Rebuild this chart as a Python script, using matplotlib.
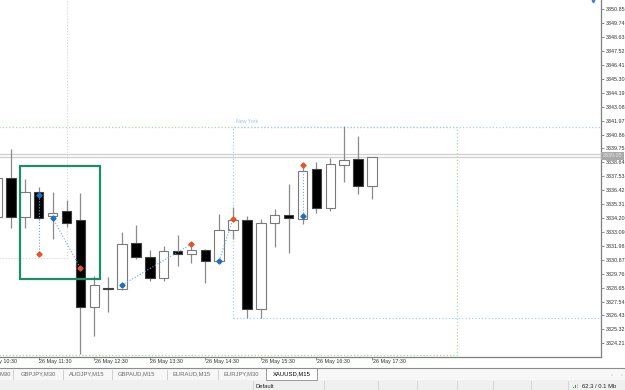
import numpy as np
import matplotlib
matplotlib.use('Agg')
from matplotlib import pyplot as plt
from matplotlib.patches import Rectangle

plt.rcParams['font.family'] = ['Liberation Sans', 'DejaVu Sans']

# XAUUSD M15 candles, 26 May
times = ['10:45', '11:00', '11:15', '11:30', '11:45', '12:00', '12:15', '12:30', '12:45',
         '13:00', '13:15', '13:30', '13:45', '14:00', '14:15', '14:30', '14:45', '15:00',
         '15:15', '15:30', '15:45', '16:00', '16:15', '16:30', '16:45', '17:00', '17:15', '17:30']
opens = [3334.31, 3337.42, 3334.31, 3336.28, 3334.34, 3334.77, 3334.05, 3327.09, 3328.62,
         3328.52, 3332.19, 3331.12, 3329.45, 3331.60, 3331.34, 3331.66, 3330.78, 3333.25,
         3334.05, 3326.93, 3333.78, 3334.45, 3334.10, 3338.09, 3334.98, 3338.43, 3338.89, 3336.74]
highs = [3338.00, 3339.71, 3337.32, 3336.68, 3336.28, 3335.64, 3336.22, 3329.58, 3329.53,
         3333.07, 3333.65, 3331.66, 3331.95, 3332.86, 3332.21, 3331.75, 3334.53, 3335.11,
         3334.37, 3334.10, 3334.95, 3336.92, 3338.27, 3338.65, 3339.02, 3341.54, 3340.75, 3339.05]
lows = [3333.50, 3333.43, 3333.41, 3334.05, 3332.53, 3333.49, 3323.36, 3324.82, 3326.74,
        3328.45, 3330.91, 3329.21, 3329.21, 3330.40, 3330.64, 3329.05, 3330.70, 3332.53,
        3326.21, 3326.21, 3331.92, 3331.39, 3333.70, 3334.58, 3334.77, 3337.05, 3336.10, 3335.70]
closes = [3337.42, 3334.31, 3336.28, 3334.21, 3334.58, 3333.83, 3327.09, 3328.86, 3328.58,
          3332.13, 3331.12, 3329.45, 3331.58, 3331.34, 3331.66, 3330.78, 3333.25, 3334.05,
          3326.95, 3333.78, 3334.42, 3334.23, 3337.93, 3334.98, 3338.49, 3338.81, 3336.74, 3339.05]
ask = 3339.31

# trades: open time, open price, close time, close price
trade_open_t = ['11:30', '11:45', '13:00', '14:45', '16:15']
trade_open_p = [3336.04, 3334.23, 3328.86, 3330.80, 3334.34]
trade_close_t = ['11:30', '12:15', '14:15', '15:00', '16:15']
trade_close_p = [3331.34, 3330.20, 3332.13, 3334.15, 3338.43]

tick_times = ['10:30', '11:30', '12:30', '13:30', '14:30', '15:30', '16:30', '17:30']
yticks = [3350.85, 3349.74, 3348.63, 3347.52, 3346.41, 3345.30, 3344.19, 3343.08, 3341.97,
          3340.86, 3339.75, 3338.64, 3337.53, 3336.42, 3335.31, 3334.20, 3333.09, 3331.98,
          3330.87, 3329.76, 3328.65, 3327.54, 3326.43, 3325.32, 3324.21]

tabs = ['M30', 'GBPJPY,M30', 'AUDJPY,M15', 'GBPAUD,M15', 'EURAUD,M15', 'EURJPY,M30', 'XAUUSD,M15']


def t2x(t):
    h, m = t.split(':')
    h0, m0 = times[0].split(':')
    return ((int(h) * 60 + int(m)) - (int(h0) * 60 + int(m0))) / 15.0


x = np.arange(len(times))
o = np.array(opens); c = np.array(closes)
up = c >= o

fig = plt.figure(figsize=(6.25, 3.9), dpi=100)
ax = fig.add_axes([0, 33 / 390, 601 / 625, 357 / 390])

# session boxes
ax.add_patch(Rectangle((-10, 3331.02), t2x('12:00') + 10, 40, fill=False, ec='#d4d4d4', ls=':', lw=0.8))
ax.add_patch(Rectangle((-10, 3323.28), t2x('19:00') + 10.1, 3341.47 - 3323.28, fill=False,
                       ec='#9be39b', ls=':', lw=0.9))
ax.add_patch(Rectangle((t2x('15:00'), 3326.21), 40, 3341.47 - 3326.21, fill=False,
                       ec='#a9d0f2', ls=':', lw=0.9))
ax.text(t2x('15:00') + 0.2, 3341.7, 'New York', fontsize=3.8, color='#9cc3ea', va='bottom')

# bid / ask lines
ax.axhline(closes[-1], color='#cfcfcf', lw=0.9, zorder=1)
ax.axhline(ask, color='#cfcfcf', lw=0.9, zorder=1)

# candles
ax.vlines(x, lows, highs, color='#8a8a8a', lw=0.9, zorder=2)
ax.bar(x[up], (c - o)[up], bottom=o[up], width=0.68, color='white', edgecolor='#7a7a7a',
       lw=0.8, zorder=3)
ax.bar(x[~up], (c - o)[~up], bottom=o[~up], width=0.68, color='black', edgecolor='#404040',
       lw=0.8, zorder=3)

# trades
for ot, op, ct, cp in zip(trade_open_t, trade_open_p, trade_close_t, trade_close_p):
    ax.plot([t2x(ot), t2x(ct)], [op, cp], ls=':', color='#6aa6dc', lw=0.8, zorder=4)
    ax.plot(t2x(ot), op, marker='D', ms=2.6, color='#1f6fc0', zorder=5)
    ax.plot(t2x(ct), cp, marker='D', ms=2.6, color='#e5532d', zorder=5)

# hand drawn highlight box
ax.add_patch(Rectangle((t2x('11:10'), 3329.34), t2x('12:36') - t2x('11:10'), 3338.35 - 3329.34,
                       fill=False, ec='#1e8c66', lw=1.6, zorder=6))

# axes styling
for s in ['top', 'left']:
    ax.spines[s].set_visible(False)
for s in ['right', 'bottom']:
    ax.spines[s].set_color('#7f7f7f')
    ax.spines[s].set_linewidth(0.9)
ax.yaxis.tick_right()
ax.set_yticks(yticks)
ax.set_yticklabels(['%.2f' % v for v in yticks])
ax.tick_params(axis='y', length=2.5, width=0.6, color='#7f7f7f', labelsize=3.9, pad=1.0,
               labelcolor='#333333')
ax.set_xticks([t2x(t) for t in tick_times])
ax.set_xticklabels([])
ax.tick_params(axis='x', length=2.5, width=0.6, color='#7f7f7f')
for t in tick_times:
    ax.text(t2x(t) + 0.05, -0.006, '26 May ' + t, transform=ax.get_xaxis_transform(),
            fontsize=3.9, color='#333333', ha='left', va='top', clip_on=False)

# view limits last (set_xticks would widen them)
ax.set_xlim(0.21, 43.5)
ax.set_ylim(3323.12, 3351.59)

# current price label
ax.text(1.003, closes[-1] + 0.1, '%.2f' % closes[-1], transform=ax.get_yaxis_transform(),
        fontsize=3.9, color='#e8e8e8', ha='left', va='center', clip_on=False,
        bbox=dict(fc='#a9a9a9', ec='none', pad=1.0))
ax.plot(0.987, 0.997, marker='v', ms=2, color='#3d85c6', transform=ax.transAxes, clip_on=False)

# terminal tab bar / status bar
ui = fig.add_axes([0, 0, 1, 23 / 390])
ui.set_xlim(0, 625)
ui.set_ylim(390, 367)
ui.axis('off')
ui.add_patch(Rectangle((0, 367.5), 625, 12.5, fc='#f7f7f7', ec='none'))
ui.add_patch(Rectangle((0, 380), 625, 10, fc='#f0f0f0', ec='none'))
ui.plot([0, 625], [367.8, 367.8], color='#8c8c8c', lw=0.8)
ui.add_patch(Rectangle((265.7, 367.8), 51, 12, fc='white', ec='#9a9a9a', lw=0.7))
tab_x = [0, 38.5, 87, 137, 191.5, 241.5, 291.5]
for i, (lbl, tx) in enumerate(zip(tabs, tab_x)):
    if i == 0:
        ui.text(tx, 374, lbl, fontsize=4.2, color='#6a6a6a', ha='left', va='center')
    else:
        ui.text(tx, 374, lbl, fontsize=4.2, color='black' if i == len(tabs) - 1 else '#6a6a6a',
                ha='center', va='center')
for sx in [13, 63, 112, 167, 218]:
    ui.plot([sx, sx], [370, 378.5], color='#c8c8c8', lw=0.6)
ui.text(612, 374, '\u2039', fontsize=4, color='#b0b0b0', ha='center', va='center')
ui.text(622, 374, '\u203a', fontsize=4, color='#b0b0b0', ha='center', va='center')
for sx in [253, 324, 378, 417, 457, 493, 531, 568]:
    ui.plot([sx, sx], [381, 390], color='#d0d0d0', lw=0.6)
ui.text(256, 386, 'Default', fontsize=4.2, color='#222222', ha='left', va='center')
ui.add_patch(Rectangle((572.5, 386.5), 1, 1.5, fc='#3c9a3c', ec='none'))
ui.add_patch(Rectangle((574.5, 385), 1, 3, fc='#3c9a3c', ec='none'))
ui.add_patch(Rectangle((576.5, 383.5), 1, 4.5, fc='#c8c8c8', ec='none'))
ui.text(582, 386, '62.3 / 0.1 Mb', fontsize=4.2, color='#222222', ha='left', va='center')

fig.savefig('out.png', dpi=100, facecolor='white')
